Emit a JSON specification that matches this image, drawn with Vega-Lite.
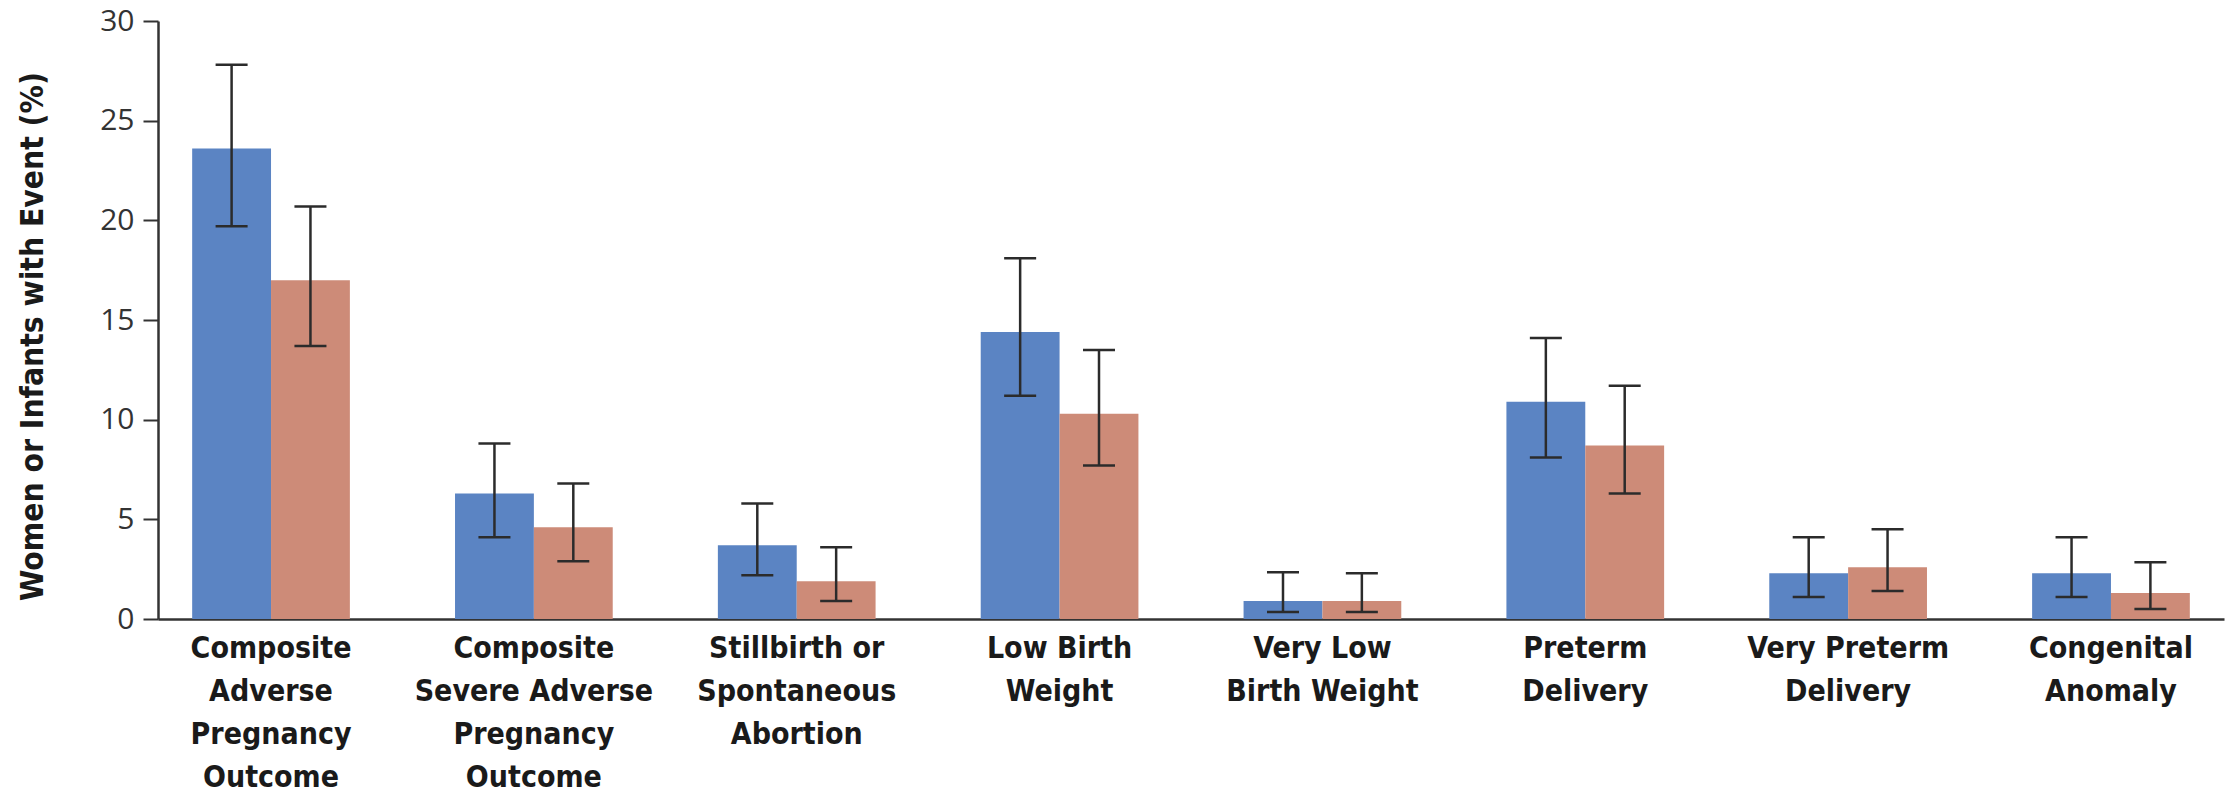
{
  "$schema": "https://vega.github.io/schema/vega-lite/v6.json",
  "autosize": {"type": "none"},
  "width": 2066,
  "height": 598,
  "padding": {"left": 158, "top": 21, "right": 3, "bottom": 182},
  "background": "white",
  "config": {
    "view": {"stroke": null},
    "axis": {"grid": false}
  },
  "data": {
    "values": [
      {"outcome": "Composite|Adverse|Pregnancy|Outcome", "arm": "A", "pct": 23.6, "lo": 19.7, "hi": 27.8},
      {"outcome": "Composite|Adverse|Pregnancy|Outcome", "arm": "B", "pct": 17.0, "lo": 13.7, "hi": 20.7},
      {"outcome": "Composite|Severe Adverse|Pregnancy|Outcome", "arm": "A", "pct": 6.3, "lo": 4.1, "hi": 8.8},
      {"outcome": "Composite|Severe Adverse|Pregnancy|Outcome", "arm": "B", "pct": 4.6, "lo": 2.9, "hi": 6.8},
      {"outcome": "Stillbirth or|Spontaneous|Abortion", "arm": "A", "pct": 3.7, "lo": 2.2, "hi": 5.8},
      {"outcome": "Stillbirth or|Spontaneous|Abortion", "arm": "B", "pct": 1.9, "lo": 0.9, "hi": 3.6},
      {"outcome": "Low Birth|Weight", "arm": "A", "pct": 14.4, "lo": 11.2, "hi": 18.1},
      {"outcome": "Low Birth|Weight", "arm": "B", "pct": 10.3, "lo": 7.7, "hi": 13.5},
      {"outcome": "Very Low|Birth Weight", "arm": "A", "pct": 0.9, "lo": 0.35, "hi": 2.35},
      {"outcome": "Very Low|Birth Weight", "arm": "B", "pct": 0.9, "lo": 0.35, "hi": 2.3},
      {"outcome": "Preterm|Delivery", "arm": "A", "pct": 10.9, "lo": 8.1, "hi": 14.1},
      {"outcome": "Preterm|Delivery", "arm": "B", "pct": 8.7, "lo": 6.3, "hi": 11.7},
      {"outcome": "Very Preterm|Delivery", "arm": "A", "pct": 2.3, "lo": 1.1, "hi": 4.1},
      {"outcome": "Very Preterm|Delivery", "arm": "B", "pct": 2.6, "lo": 1.4, "hi": 4.5},
      {"outcome": "Congenital|Anomaly", "arm": "A", "pct": 2.3, "lo": 1.1, "hi": 4.1},
      {"outcome": "Congenital|Anomaly", "arm": "B", "pct": 1.3, "lo": 0.5, "hi": 2.85}
    ]
  },
  "encoding": {
    "x": {
      "field": "outcome",
      "type": "nominal",
      "sort": null,
      "scale": {"paddingInner": 0.4, "paddingOuter": 0.13},
      "axis": {
        "title": null,
        "labelAngle": 0,
        "labelExpr": "split(datum.value, '|')",
        "labelFont": "DejaVu Sans Condensed, sans-serif",
        "labelFontWeight": "bold",
        "labelFontSize": 30,
        "labelLineHeight": 43,
        "labelLimit": 0,
        "labelColor": "#1a1a1a",
        "labelPadding": 14,
        "labelBaseline": "top",
        "ticks": false,
        "domainColor": "#333333",
        "domainWidth": 2.5
      }
    },
    "xOffset": {"field": "arm", "type": "nominal", "scale": {"paddingInner": 0, "paddingOuter": 0}}
  },
  "layer": [
    {
      "mark": {"type": "bar", "opacity": 1},
      "encoding": {
        "y": {
          "field": "pct",
          "type": "quantitative",
          "scale": {"domain": [0, 30], "nice": false},
          "axis": {
            "title": "Women or Infants with Event (%)",
            "titleFont": "DejaVu Sans Condensed, sans-serif",
            "titleFontWeight": "bold",
            "titleFontSize": 31.5,
            "titleColor": "#1a1a1a",
            "titlePadding": 50,
            "titleY": 315,
            "titleAlign": "center",
            "values": [0, 5, 10, 15, 20, 25, 30],
            "labelFont": "Open Sans, sans-serif",
            "labelFontSize": 30,
            "labelColor": "#333333",
            "labelPadding": 9,
            "tickSize": 15,
            "tickWidth": 2,
            "tickColor": "#333333",
            "domainColor": "#333333",
            "domainWidth": 2.5
          }
        },
        "color": {
          "field": "arm",
          "type": "nominal",
          "scale": {"domain": ["A", "B"], "range": ["#5b84c3", "#cd8b78"]},
          "legend": null
        }
      }
    },
    {
      "mark": {"type": "rule", "color": "#2b2b2b", "strokeWidth": 2.5},
      "encoding": {
        "y": {"field": "lo", "type": "quantitative"},
        "y2": {"field": "hi"}
      }
    },
    {
      "mark": {"type": "tick", "color": "#2b2b2b", "thickness": 2.5, "size": 32, "opacity": 1},
      "encoding": {
        "y": {"field": "lo", "type": "quantitative"}
      }
    },
    {
      "mark": {"type": "tick", "color": "#2b2b2b", "thickness": 2.5, "size": 32, "opacity": 1},
      "encoding": {
        "y": {"field": "hi", "type": "quantitative"}
      }
    }
  ]
}
